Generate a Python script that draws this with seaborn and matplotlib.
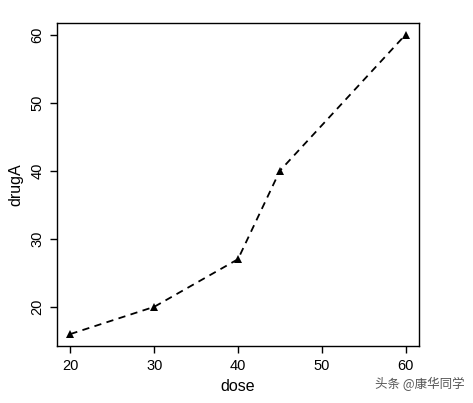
import matplotlib
matplotlib.use("Agg")
import matplotlib.pyplot as plt
import seaborn as sns
import pandas as pd

dose = [20, 30, 40, 45, 60]
drugA = [16, 20, 27, 40, 60]
x_ticks = [20, 30, 40, 50, 60]
y_ticks = [20, 30, 40, 50, 60]

sns.set_theme(style="white")
plt.rcParams['font.family'] = ['Liberation Sans', 'Noto Sans CJK SC', 'DejaVu Sans']

df = pd.DataFrame({"dose": dose, "drugA": drugA})

fig = plt.figure(figsize=(4.73, 4.03), dpi=100)
ax = fig.add_axes([0.1205, 0.1414, 0.7653, 0.8023])

sns.lineplot(data=df, x="dose", y="drugA", ax=ax, color="black",
             linewidth=1.3, marker="^", markersize=5.5, markeredgewidth=0,
             dashes=False)
ax.lines[0].set_dashes((4, 3))

ax.set_xlim(18.4, 61.6)
ax.set_ylim(14.24, 61.76)
ax.set_xticks(x_ticks)
ax.set_yticks(y_ticks)
ax.set_yticklabels([str(v) for v in y_ticks], rotation=90, va="center")
ax.tick_params(axis="both", which="major", direction="out", length=5, width=1,
               color="black", labelsize=10.5, labelcolor="black", pad=4,
               left=True, bottom=True)
for s in ax.spines.values():
    s.set_color("black")
    s.set_linewidth(1)
ax.set_xlabel("dose", fontsize=11.5, color="black", labelpad=5)
ax.set_ylabel("drugA", fontsize=11.5, color="black", labelpad=5)

fig.text(0.793, 0.047, "头条 @康华同学", fontsize=9, color="#555555",
         family=['Noto Sans CJK SC', 'DejaVu Sans'], ha="left", va="center")

fig.savefig("out.png", dpi=100)
